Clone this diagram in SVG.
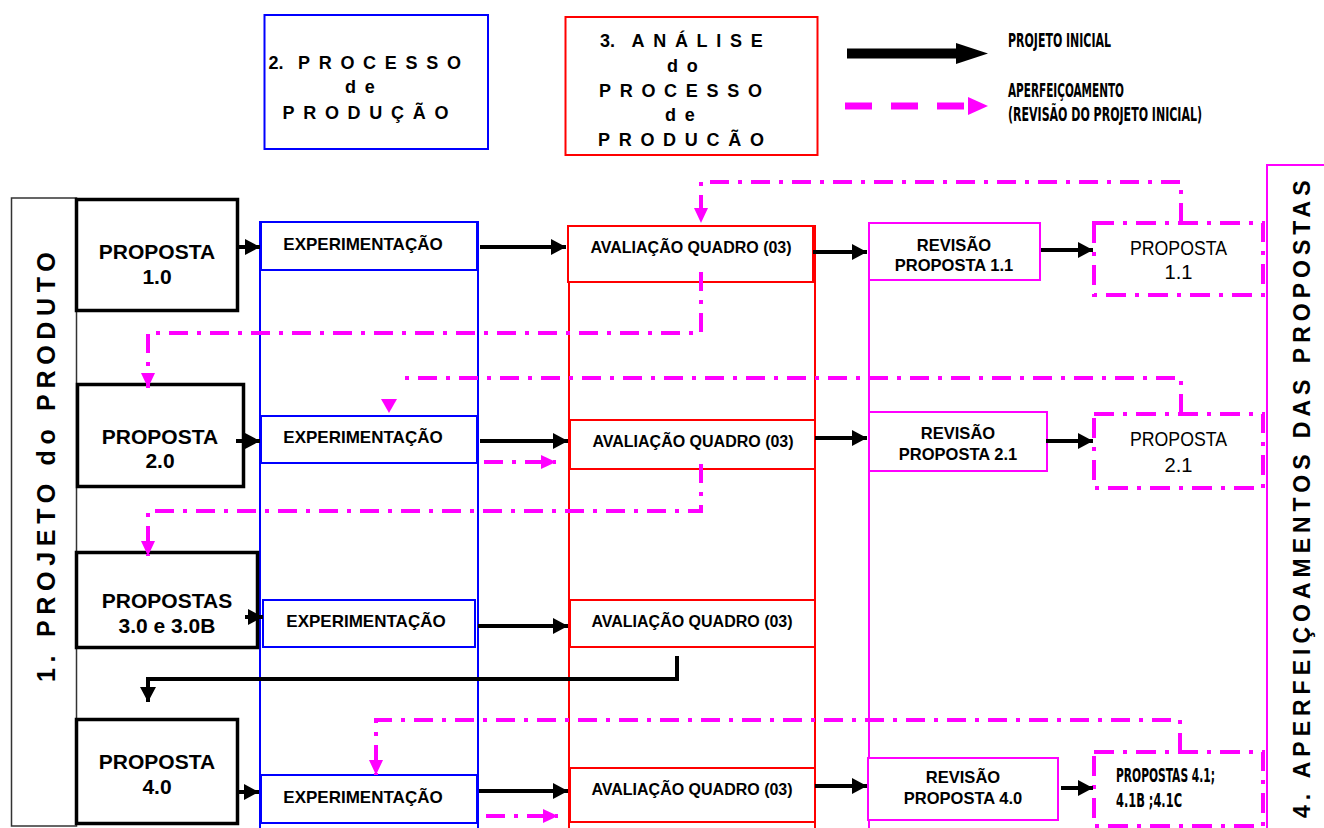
<svg xmlns="http://www.w3.org/2000/svg" width="1324" height="828" viewBox="0 0 1324 828">
  <defs>
    <marker id="ah" markerUnits="userSpaceOnUse" markerWidth="15" markerHeight="16" refX="15" refY="8" orient="auto">
      <path d="M0,0 L15,8 L0,16 z" fill="#000"/>
    </marker>
    <marker id="ph" markerUnits="userSpaceOnUse" markerWidth="15" markerHeight="16" refX="15" refY="8" orient="auto">
      <path d="M0,1 L15,8 L0,15 z" fill="#ff00ff"/>
    </marker>
    <style>
      text { font-family: "Liberation Sans", Arial, sans-serif; fill: #000; }
      .hd { font-weight: bold; font-size: 18px; letter-spacing: 8.7px; }
      .hd .num { letter-spacing: 0; }
      .prop { font-weight: bold; font-size: 21px; text-anchor: middle; }
      .exp { font-weight: bold; font-size: 17px; text-anchor: middle; }
      .av { font-weight: bold; font-size: 16px; text-anchor: middle; }
      .rev { font-weight: bold; font-size: 16.5px; text-anchor: middle; }
      .nar { font-family: "Liberation Sans Narrow", "Liberation Sans", Arial, sans-serif; font-size: 21px; text-anchor: middle; }
      .cond { font-family: "DejaVu Sans Condensed", "DejaVu Sans", sans-serif; font-weight: bold; font-size: 19px; }
      .vt { font-weight: bold; }
      .pbox { fill: #fff; stroke: #000; stroke-width: 3.5; }
      .ebox { fill: #fff; stroke: #0000ff; stroke-width: 2; }
      .abox { fill: #fff; stroke: #ff0000; stroke-width: 2; }
      .rbox { fill: #fff; stroke: #ff00ff; stroke-width: 2; }
      .dbox { fill: #fff; stroke: #ff00ff; stroke-width: 4; stroke-dasharray: 20 9 4 9; }
      .blk { fill: none; stroke: #000; stroke-width: 4; }
      .pk { fill: none; stroke: #ff00ff; stroke-width: 4; stroke-dasharray: 19 9 4 9; }
    </style>
  </defs>

  <rect width="1324" height="828" fill="#fff"/>

  <!-- legend -->
  <g id="legend">
    <line x1="847" y1="53.5" x2="958" y2="53.5" stroke="#000" stroke-width="10"/>
    <polygon points="956,43 988,53.5 956,64" fill="#000"/>
    <text class="cond" x="1008" y="47" textLength="103" lengthAdjust="spacingAndGlyphs">PROJETO INICIAL</text>
    <line x1="845" y1="106" x2="968" y2="106" stroke="#ff00ff" stroke-width="7" stroke-dasharray="27 19"/>
    <polygon points="968,97 988,106 968,115" fill="#ff00ff"/>
    <text class="cond" x="1008" y="97" textLength="116" lengthAdjust="spacingAndGlyphs">APERFEIÇOAMENTO</text>
    <text class="cond" x="1008" y="121" textLength="194" lengthAdjust="spacingAndGlyphs">(REVISÃO DO PROJETO INICIAL)</text>
  </g>

  <!-- column headers -->
  <g id="header-processo">
    <rect x="264.5" y="15" width="223.5" height="134" fill="#fff" stroke="#0000ff" stroke-width="2"/>
    <text class="hd" y="69"><tspan class="num" x="268.5">2.</tspan><tspan x="298">PROCESSO</tspan></text>
    <text class="hd" x="345" y="93">de</text>
    <text class="hd" x="282.5" y="119">PRODUÇÃO</text>
  </g>
  <g id="header-analise">
    <rect x="565.5" y="17" width="252" height="138" fill="#fff" stroke="#ff0000" stroke-width="2"/>
    <text class="hd" y="47"><tspan class="num" x="600">3.</tspan><tspan x="631.5">ANÁLISE</tspan></text>
    <text class="hd" x="667" y="72">do</text>
    <text class="hd" x="599" y="97">PROCESSO</text>
    <text class="hd" x="665" y="121">de</text>
    <text class="hd" x="598" y="146">PRODUCÃO</text>
  </g>

  <!-- side bands -->
  <g id="band-projeto">
    <rect x="11.5" y="198" width="65" height="628" fill="#fff" stroke="#333" stroke-width="1.5"/>
    <text class="vt" font-size="25" letter-spacing="5.7" transform="translate(55,682) rotate(-90)">1. PROJETO do PRODUTO</text>
  </g>
  <g id="band-aperfeicoamentos">
    <rect x="1267" y="165" width="70" height="680" fill="#fff" stroke="#ff00ff" stroke-width="2"/>
    <text class="vt" font-size="23" letter-spacing="5" transform="translate(1310,818) rotate(-90)">4. APERFEIÇOAMENTOS DAS PROPOSTAS</text>
  </g>

  <!-- lanes -->
  <g id="lane-processo">
    <rect x="260" y="222" width="218" height="620" fill="none" stroke="#0000ff" stroke-width="2"/>
  </g>
  <g id="lane-analise">
    <rect x="569" y="226" width="246" height="616" fill="none" stroke="#ff0000" stroke-width="2"/>
  </g>
  <g id="lane-revisao">
    <line x1="869" y1="222" x2="869" y2="828" stroke="#ff00ff" stroke-width="2"/>
  </g>

  <!-- propostas -->
  <g id="proposta-1-0">
    <rect class="pbox" x="76.5" y="199.5" width="161" height="111"/>
    <text class="prop" x="157" y="259">PROPOSTA</text>
    <text class="prop" x="157" y="284">1.0</text>
  </g>
  <g id="proposta-2-0">
    <rect class="pbox" x="77.5" y="384.5" width="166" height="102"/>
    <text class="prop" x="160" y="444">PROPOSTA</text>
    <text class="prop" x="160" y="468">2.0</text>
  </g>
  <g id="proposta-3-0">
    <rect class="pbox" x="76.5" y="552.5" width="181" height="95"/>
    <text class="prop" x="167" y="608">PROPOSTAS</text>
    <text class="prop" x="167" y="633">3.0 e 3.0B</text>
  </g>
  <g id="proposta-4-0">
    <rect class="pbox" x="76.5" y="719.5" width="161" height="104"/>
    <text class="prop" x="157" y="769">PROPOSTA</text>
    <text class="prop" x="157" y="794">4.0</text>
  </g>

  <!-- experimentacao -->
  <g id="exp-1">
    <rect class="ebox" x="261" y="222" width="216" height="48"/>
    <text class="exp" x="363" y="250">EXPERIMENTAÇÃO</text>
  </g>
  <g id="exp-2">
    <rect class="ebox" x="261" y="416" width="216" height="47"/>
    <text class="exp" x="363" y="443">EXPERIMENTAÇÃO</text>
  </g>
  <g id="exp-3">
    <rect class="ebox" x="263" y="600" width="212" height="47"/>
    <text class="exp" x="366" y="627">EXPERIMENTAÇÃO</text>
  </g>
  <g id="exp-4">
    <rect class="ebox" x="261" y="775" width="216" height="48"/>
    <text class="exp" x="363" y="803">EXPERIMENTAÇÃO</text>
  </g>

  <!-- avaliacao -->
  <g id="av-1">
    <rect class="abox" x="568" y="226" width="245" height="56"/>
    <text class="av" x="691" y="253">AVALIAÇÃO QUADRO (03)</text>
  </g>
  <g id="av-2">
    <rect class="abox" x="570" y="420" width="245" height="49"/>
    <text class="av" x="693" y="447">AVALIAÇÃO QUADRO (03)</text>
  </g>
  <g id="av-3">
    <rect class="abox" x="570" y="600" width="245" height="47"/>
    <text class="av" x="692" y="627">AVALIAÇÃO QUADRO (03)</text>
  </g>
  <g id="av-4">
    <rect class="abox" x="570" y="768" width="245" height="54"/>
    <text class="av" x="692" y="795">AVALIAÇÃO QUADRO (03)</text>
  </g>

  <!-- revisao -->
  <g id="rev-1-1">
    <rect class="rbox" x="869" y="223" width="171" height="57"/>
    <text class="rev" x="954" y="251">REVISÃO</text>
    <text class="rev" x="954" y="271">PROPOSTA 1.1</text>
  </g>
  <g id="rev-2-1">
    <rect class="rbox" x="869" y="412" width="178" height="59"/>
    <text class="rev" x="958" y="439">REVISÃO</text>
    <text class="rev" x="958" y="460">PROPOSTA 2.1</text>
  </g>
  <g id="rev-4-0">
    <rect class="rbox" x="868" y="758" width="190" height="62"/>
    <text class="rev" x="963" y="783">REVISÃO</text>
    <text class="rev" x="963" y="804">PROPOSTA 4.0</text>
  </g>

  <!-- propostas revisadas -->
  <g id="proposta-1-1">
    <rect class="dbox" x="1094" y="223" width="169" height="72"/>
    <text class="nar" x="1178.5" y="255" textLength="97" lengthAdjust="spacingAndGlyphs">PROPOSTA</text>
    <text class="nar" x="1178.5" y="279" textLength="28" lengthAdjust="spacingAndGlyphs">1.1</text>
  </g>
  <g id="proposta-2-1">
    <rect class="dbox" x="1094" y="414" width="169" height="74"/>
    <text class="nar" x="1178.5" y="446" textLength="97" lengthAdjust="spacingAndGlyphs">PROPOSTA</text>
    <text class="nar" x="1178.5" y="472" textLength="28" lengthAdjust="spacingAndGlyphs">2.1</text>
  </g>
  <g id="propostas-4-1">
    <rect class="dbox" x="1094" y="752" width="169" height="74"/>
    <text class="cond" x="1116" y="782" textLength="99" lengthAdjust="spacingAndGlyphs">PROPOSTAS 4.1;</text>
    <text class="cond" x="1116" y="807" textLength="66" lengthAdjust="spacingAndGlyphs">4.1B ;4.1C</text>
  </g>

  <!-- connectors -->
  <g id="connectors">
    <!-- projeto inicial -->
    <line class="blk" x1="239" y1="247" x2="260" y2="247" marker-end="url(#ah)"/>
    <line class="blk" x1="480" y1="247" x2="566" y2="247" marker-end="url(#ah)"/>
    <line class="blk" x1="813" y1="252" x2="867" y2="252" marker-end="url(#ah)"/>
    <line class="blk" x1="1041" y1="250" x2="1093" y2="250" marker-end="url(#ah)"/>

    <line class="blk" x1="236" y1="441" x2="260" y2="441" marker-end="url(#ah)"/>
    <line class="blk" x1="480" y1="441" x2="568" y2="441" marker-end="url(#ah)"/>
    <line class="blk" x1="815" y1="438" x2="867" y2="438" marker-end="url(#ah)"/>
    <line class="blk" x1="1046" y1="441" x2="1093" y2="441" marker-end="url(#ah)"/>

    <line class="blk" x1="245" y1="617" x2="263" y2="617" marker-end="url(#ah)"/>
    <line class="blk" x1="478" y1="626" x2="568" y2="626" marker-end="url(#ah)"/>
    <polyline class="blk" points="677,656 677,679 148,679 148,702" marker-end="url(#ah)"/>

    <line class="blk" x1="238" y1="792" x2="259" y2="792" marker-end="url(#ah)"/>
    <line class="blk" x1="479" y1="791" x2="568" y2="791" marker-end="url(#ah)"/>
    <line class="blk" x1="815" y1="786" x2="867" y2="786" marker-end="url(#ah)"/>
    <line class="blk" x1="1061" y1="788" x2="1093" y2="788" marker-end="url(#ah)"/>

    <!-- aperfeicoamento -->
    <polyline class="pk" points="1181,222 1181,182 701,182 701,223" marker-end="url(#ph)"/>
    <polyline class="pk" points="701,272 701,333 148,333 148,388" marker-end="url(#ph)"/>
    <polyline class="pk" points="1181,413 1181,378 398,378"/>
    <polygon points="381,399 397,399 389,413" fill="#ff00ff"/>
    <line class="pk" x1="484" y1="462" x2="556" y2="462" marker-end="url(#ph)"/>
    <polyline class="pk" points="701,464 701,511 148,511 148,556" marker-end="url(#ph)"/>
    <polyline class="pk" points="1180,752 1180,720 376,720 376,775" marker-end="url(#ph)"/>
    <line class="pk" x1="486" y1="816" x2="558" y2="816" marker-end="url(#ph)"/>
  </g>
</svg>
